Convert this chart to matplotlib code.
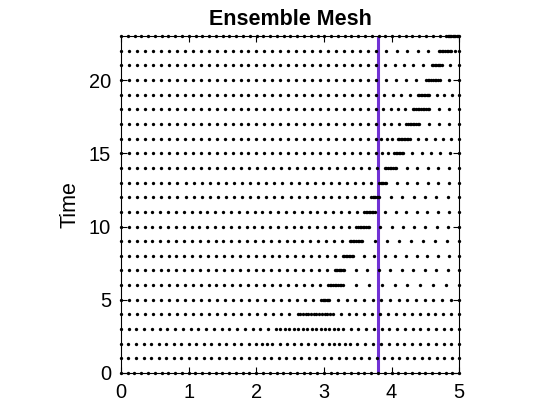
import numpy as np
import matplotlib
matplotlib.use('Agg')
import matplotlib.pyplot as plt

# malla por fila de tiempo: bordes de cada tramo y numero de intervalos en el tramo
tiempos = list(range(24))
bordes = [
    [0, 5.0],                              # t=0
    [0, 5.0],                              # t=1
    [0, 2.0, 2.24, 3.08, 3.38, 5.0],       # t=2
    [0, 2.29, 3.28, 5.0],                  # t=3
    [0, 2.61, 3.13, 5.0],                  # t=4
    [0, 2.96, 3.08, 5.0],                  # t=5
    [0, 3.06, 3.28, 5.0],                  # t=6
    [0, 3.16, 3.30, 5.0],                  # t=7
    [0, 3.28, 3.43, 5.0],                  # t=8
    [0, 3.38, 3.57, 5.0],                  # t=9
    [0, 3.48, 3.67, 5.0],                  # t=10
    [0, 3.60, 3.75, 5.0],                  # t=11
    [0, 3.70, 3.82, 5.0],                  # t=12
    [0, 3.82, 3.92, 5.0],                  # t=13
    [0, 3.90, 4.07, 5.0],                  # t=14
    [0, 3.77, 4.04, 4.17, 5.0],            # t=15
    [0, 3.77, 4.09, 4.27, 5.0],            # t=16
    [0, 3.77, 4.22, 4.41, 5.0],            # t=17
    [0, 3.77, 4.31, 4.56, 5.0],            # t=18
    [0, 3.77, 4.39, 4.56, 5.0],            # t=19
    [0, 3.77, 4.51, 4.71, 5.0],            # t=20
    [0, 3.77, 4.60, 4.74, 5.0],            # t=21
    [0, 3.77, 4.70, 4.88, 5.0],            # t=22
    [0, 4.81, 5.0],                        # t=23
]
intervalos = [
    [50],
    [45],
    [18, 3, 8, 4, 14],
    [20, 15, 15],
    [22, 13, 16],
    [25, 6, 15],
    [26, 9, 9],
    [27, 7, 10],
    [28, 7, 10],
    [29, 8, 8],
    [30, 8, 8],
    [31, 7, 8],
    [31, 6, 7],
    [32, 5, 7],
    [33, 7, 6],
    [32, 3, 6, 6],
    [32, 4, 8, 6],
    [32, 4, 8, 4],
    [32, 5, 10, 3],
    [32, 5, 8, 4],
    [32, 5, 8, 2],
    [32, 6, 7, 2],
    [32, 6, 8, 2],
    [48, 10],
]
x_frente = 3.8   # linea vertical

plt.rcParams['font.family'] = ['Liberation Sans', 'DejaVu Sans']

fig = plt.figure(figsize=(5.6, 4.2), dpi=100)
ax = fig.add_axes([0.216, 0.112, 0.604, 0.802])

for t, b, n in zip(tiempos, bordes, intervalos):
    xs = []
    for i in range(len(n)):
        xs.append(np.linspace(b[i], b[i + 1], n[i] + 1)[:-1])
    xs.append([b[-1]])
    xs = np.concatenate(xs)
    ax.plot(xs, np.full(len(xs), t), 'o', color='black', ms=2.4,
            markeredgewidth=0, clip_on=False, zorder=3)

ax.axvline(x_frente, color='#7131d4', lw=2.2, zorder=2)

ax.set_xlim(0, 5)
ax.set_ylim(0, 23)
ax.set_xticks(range(6))
ax.set_yticks([0, 5, 10, 15, 20])
ax.tick_params(direction='in', top=True, right=True, labelsize=14.4, length=4)
ax.tick_params(axis='x', pad=7)
ax.tick_params(axis='y', pad=7)
ax.set_ylabel('Time', fontsize=15.5, labelpad=6)
ax.set_title('Ensemble Mesh', fontsize=15.5, fontweight='bold', pad=8)

fig.savefig('out.png', dpi=100)
